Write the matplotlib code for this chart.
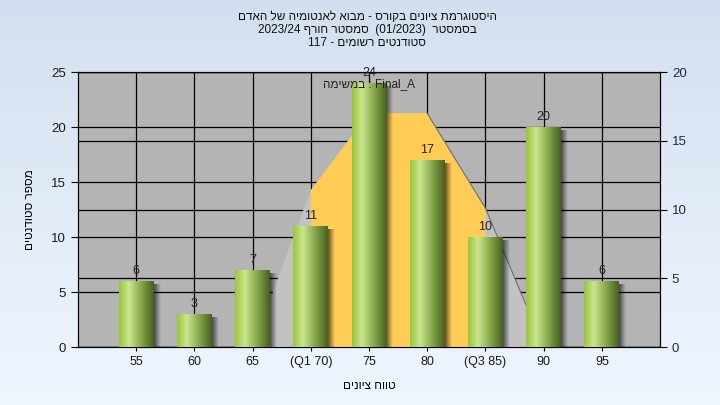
import re
import numpy as np
import matplotlib
matplotlib.use('Agg')
import matplotlib.pyplot as plt
from matplotlib.colors import LinearSegmentedColormap

plt.rcParams['font.family'] = ['Liberation Sans', 'DejaVu Sans']

# data
grades = ['55', '60', '65', '(Q1 70)', '75', '80', '(Q3 85)', '90', '95']
students = [6, 3, 7, 11, 24, 17, 10, 20, 6]
# distribution curve, right axis scale
curve = [0, 0, 0, 11.4, 17, 17, 10.1, 0, 0]
q1_idx, q3_idx = 3, 6

title_lines = ['היסטוגרמת ציונים בקורס - מבוא לאנטומיה של האדם',
               'בסמסטר  (01/2023)  סמסטר חורף 2023/24',
               'סטודנטים רשומים - 117']
x_title = 'טווח ציונים'
y_title = 'מספר סטודנטים'
legend_word = 'במשימה'
assignment = 'Final_A'


def visual(s):
    # crude right-to-left ordering: flip everything, then flip back the latin/digit runs
    r = s[::-1]
    r = re.sub(r'[0-9A-Za-z_/.]+', lambda m: m.group(0)[::-1], r)
    return r.translate(str.maketrans('()', ')('))


fig = plt.figure(figsize=(7.2, 4.05), dpi=100)

# light blue page gradient
bg = fig.add_axes([0, 0, 1, 1], zorder=-10)
bg_cmap = LinearSegmentedColormap.from_list('bg', ['#d3dff0', '#f0f6fe'])
bg.imshow(np.linspace(0, 1, 256).reshape(-1, 1), aspect='auto', cmap=bg_cmap,
          extent=[0, 1, 0, 1], origin='upper')
bg.axis('off')

ax = fig.add_axes([0.1083, 0.1432, 0.8084, 0.679])
ax2 = ax.twinx()
ax.set_zorder(ax2.get_zorder() + 1)
ax.patch.set_visible(False)
ax2.patch.set_visible(True)
ax2.patch.set_facecolor('#b4b4b4')

x = np.arange(1, len(grades) + 1)
ax.set_xlim(0, 10)
ax.set_ylim(0, 25)
ax2.set_ylim(0, 20)
ax.set_yticks(range(0, 26, 5))
ax2.set_yticks(range(0, 21, 5))
ax.set_xticks(x, grades)

ax.grid(True, color='black', lw=0.9)
ax.set_axisbelow(True)
ax2.grid(True, axis='y', color='black', lw=0.9)

# area under the curve, yellow between Q1 and Q3
ax.fill(x[2:8], curve[2:8], color='#c2c2c2', lw=0, transform=ax2.transData, zorder=1)
qx = np.r_[x[q1_idx], x[q1_idx:q3_idx + 1], x[q3_idx]]
qy = np.r_[0, curve[q1_idx:q3_idx + 1], 0]
ax.fill(qx, qy, color='#ffcc55', lw=0, transform=ax2.transData, zorder=1.1)
ax.plot(x[5:8], curve[5:8], color='#6e6e6e', lw=0.8, transform=ax2.transData, zorder=1.2)

# cylinder-ish bars
bars = ax.bar(x, students, width=0.6, color='none', zorder=3)
bar_cmap = LinearSegmentedColormap.from_list(
    'bar', [(0, '#9ac63c'), (0.28, '#cbe690'), (0.6, '#8cae50'), (1, '#48621f')])
hgrad = np.linspace(0, 1, 64).reshape(1, -1)
shadow = np.zeros((1, 32, 4))
shadow[0, :, 3] = np.linspace(0.6, 0, 32)
for rect, val in zip(bars, students):
    x0, w, h = rect.get_x(), rect.get_width(), rect.get_height()
    ax.imshow(shadow, aspect='auto', extent=[x0 + w, x0 + w + 0.11, 0, max(h - 0.35, 0)],
              zorder=2.5, interpolation='bilinear')
    ax.imshow(hgrad, cmap=bar_cmap, aspect='auto', extent=[x0, x0 + w, 0, h],
              zorder=3, interpolation='bicubic')
    ax.text(x0 + w / 2, h + 0.35, str(val), ha='center', va='bottom', fontsize=9,
            color='#2a2020', zorder=5)

ax.text(0.5, 0.955, visual(legend_word) + ' : ' + assignment, transform=ax.transAxes,
        ha='center', va='center', fontsize=8.5, color='#202020', zorder=6)

ax.tick_params(axis='y', direction='out', length=5, labelsize=9.5, labelcolor='#1a1a1a')
ax.tick_params(axis='x', direction='out', length=3, labelsize=9, labelcolor='#1a1a1a')
ax2.tick_params(axis='y', direction='out', length=5, labelsize=9.5, labelcolor='#1a2a50')

ax.set_ylabel(visual(y_title), fontsize=8.5)
ax.yaxis.set_label_coords(-0.072, 0.5)
ax.set_xlabel(visual(x_title), fontsize=8.5)
ax.xaxis.set_label_coords(0.5, -0.12)

for i, line in enumerate(title_lines):
    fig.text(0.51, 1 - (17 + 13 * i) / 405, visual(line), ha='center', va='center',
             fontsize=8.5, color='#101010')

ax.set_xlim(0, 10)
ax.set_ylim(0, 25)
ax2.set_ylim(0, 20)

fig.savefig('out.png', dpi=100)
